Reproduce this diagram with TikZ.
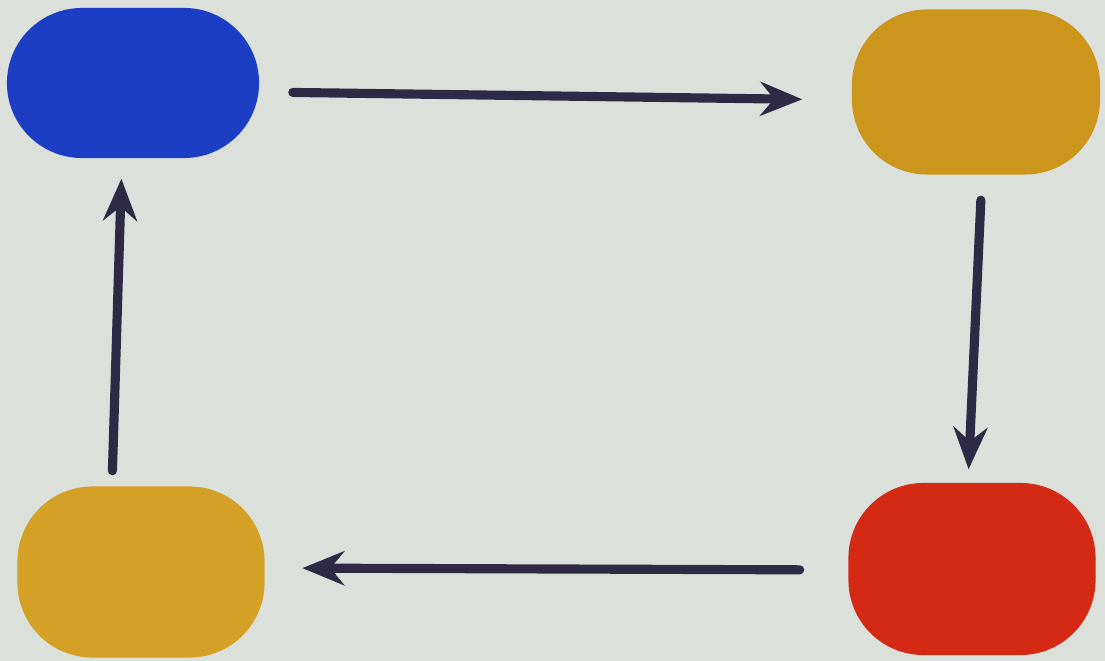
\documentclass[tikz,border=0pt]{standalone}
\usetikzlibrary{arrows.meta}

\definecolor{paper}{RGB}{219,224,219}
\definecolor{inkblue}{RGB}{27,62,196}
\definecolor{inkgold}{RGB}{203,150,27}
\definecolor{inkamber}{RGB}{212,160,37}
\definecolor{inkred}{RGB}{212,42,20}
\definecolor{marker}{RGB}{46,42,69}

\tikzset{
  blob/.style={rectangle, rounded corners=0.75cm, draw=none, minimum width=2.5cm, minimum height=1.6cm},
  stroke/.style={draw=marker, line width=2.6pt, line cap=round,
    -{Stealth[length=0.42cm, width=0.34cm, inset=0.14cm]}}
}

\begin{document}
\begin{tikzpicture}[x=0.01cm, y=-0.01cm]
\begin{scope}

  % paper
  \fill[paper] (0,0) rectangle (1105,661);
  \useasboundingbox (0,0) rectangle (1105,661);

  % colour patches
  \node[blob, fill=inkblue, minimum width=2.52cm, minimum height=1.5cm]  (blue)  at (133,83)  {};
  \node[blob, fill=inkgold, minimum width=2.48cm, minimum height=1.65cm] (gold)  at (976,92)  {};
  \node[blob, fill=inkred, minimum width=2.47cm, minimum height=1.72cm]  (red)   at (972,569) {};
  \node[blob, fill=inkamber, minimum width=2.47cm, minimum height=1.71cm] (amber) at (141,572) {};

  % arrows round the cycle
  \draw[stroke, shorten <=0.33cm, shorten >=0.49cm]
    ([yshift=-0.09cm]blue.east) -- ([yshift=-0.08cm]gold.west);
  \draw[stroke, shorten <=0.25cm, shorten >=0.13cm]
    ([xshift=0.06cm]gold.south) -- ([xshift=-0.04cm]red.north);
  \draw[stroke, shorten <=0.48cm, shorten >=0.37cm]
    ([yshift=-0.01cm]red.west) -- ([yshift=0.04cm]amber.east);
  \draw[stroke, shorten <=0.15cm, shorten >=0.2cm]
    ([xshift=-0.29cm]amber.north) -- ([xshift=-0.11cm]blue.south);

\end{scope}
\end{tikzpicture}
\end{document}
